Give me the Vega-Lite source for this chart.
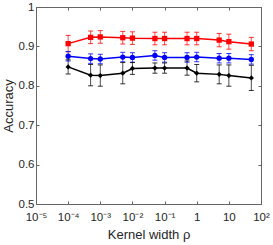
{
  "$schema": "https://vega.github.io/schema/vega-lite/v6.json",
  "width": 225,
  "height": 197,
  "autosize": {"type": "none"},
  "padding": {"left": 36, "top": 7, "right": 12, "bottom": 41},
  "background": "white",
  "config": {
    "view": {"stroke": "#666", "strokeWidth": 1},
    "axis": {
      "grid": false, "domainColor": "#666", "tickColor": "#666",
      "labelColor": "#262626", "titleColor": "#262626",
      "labelFont": "Liberation Sans", "titleFont": "Liberation Sans",
      "labelFontSize": 11.5, "titleFontSize": 13, "titleFontWeight": "normal",
      "tickSize": -3, "labelPadding": 5
    }
  },
  "data": {"values": [
    {"s": "A", "rho": 0.0001, "acc": 0.907, "lo": 0.886, "hi": 0.928},
    {"s": "A", "rho": 0.0005, "acc": 0.923, "lo": 0.907, "hi": 0.939},
    {"s": "A", "rho": 0.001, "acc": 0.924, "lo": 0.908, "hi": 0.940},
    {"s": "A", "rho": 0.005, "acc": 0.922, "lo": 0.906, "hi": 0.938},
    {"s": "A", "rho": 0.01, "acc": 0.921, "lo": 0.905, "hi": 0.937},
    {"s": "A", "rho": 0.05, "acc": 0.920, "lo": 0.904, "hi": 0.936},
    {"s": "A", "rho": 0.1, "acc": 0.920, "lo": 0.904, "hi": 0.936},
    {"s": "A", "rho": 0.5, "acc": 0.920, "lo": 0.904, "hi": 0.936},
    {"s": "A", "rho": 1, "acc": 0.920, "lo": 0.904, "hi": 0.936},
    {"s": "A", "rho": 5, "acc": 0.916, "lo": 0.899, "hi": 0.933},
    {"s": "A", "rho": 10, "acc": 0.912, "lo": 0.893, "hi": 0.931},
    {"s": "A", "rho": 50, "acc": 0.906, "lo": 0.889, "hi": 0.923},
    {"s": "B", "rho": 0.0001, "acc": 0.875, "lo": 0.863, "hi": 0.887},
    {"s": "B", "rho": 0.0005, "acc": 0.869, "lo": 0.857, "hi": 0.881},
    {"s": "B", "rho": 0.001, "acc": 0.868, "lo": 0.856, "hi": 0.880},
    {"s": "B", "rho": 0.005, "acc": 0.873, "lo": 0.861, "hi": 0.885},
    {"s": "B", "rho": 0.01, "acc": 0.872, "lo": 0.860, "hi": 0.884},
    {"s": "B", "rho": 0.05, "acc": 0.877, "lo": 0.865, "hi": 0.889},
    {"s": "B", "rho": 0.1, "acc": 0.872, "lo": 0.860, "hi": 0.884},
    {"s": "B", "rho": 0.5, "acc": 0.872, "lo": 0.860, "hi": 0.884},
    {"s": "B", "rho": 1, "acc": 0.873, "lo": 0.861, "hi": 0.885},
    {"s": "B", "rho": 5, "acc": 0.870, "lo": 0.858, "hi": 0.882},
    {"s": "B", "rho": 10, "acc": 0.870, "lo": 0.858, "hi": 0.882},
    {"s": "B", "rho": 50, "acc": 0.867, "lo": 0.855, "hi": 0.879},
    {"s": "C", "rho": 0.0001, "acc": 0.848, "lo": 0.830, "hi": 0.866},
    {"s": "C", "rho": 0.0005, "acc": 0.827, "lo": 0.800, "hi": 0.854},
    {"s": "C", "rho": 0.001, "acc": 0.826, "lo": 0.799, "hi": 0.853},
    {"s": "C", "rho": 0.005, "acc": 0.832, "lo": 0.805, "hi": 0.859},
    {"s": "C", "rho": 0.01, "acc": 0.844, "lo": 0.829, "hi": 0.859},
    {"s": "C", "rho": 0.05, "acc": 0.845, "lo": 0.832, "hi": 0.858},
    {"s": "C", "rho": 0.1, "acc": 0.845, "lo": 0.832, "hi": 0.858},
    {"s": "C", "rho": 0.5, "acc": 0.845, "lo": 0.827, "hi": 0.863},
    {"s": "C", "rho": 1, "acc": 0.832, "lo": 0.810, "hi": 0.854},
    {"s": "C", "rho": 5, "acc": 0.829, "lo": 0.805, "hi": 0.853},
    {"s": "C", "rho": 10, "acc": 0.826, "lo": 0.799, "hi": 0.853},
    {"s": "C", "rho": 50, "acc": 0.820, "lo": 0.788, "hi": 0.852}
  ]},
  "resolve": {"axis": {"x": "independent", "y": "independent"}},
  "layer": [
    {
      "mark": {"type": "rule", "strokeWidth": 1, "opacity": 0.7},
      "encoding": {
        "x": {"field": "rho", "type": "quantitative",
          "scale": {"type": "log", "domain": [0.00001, 100], "nice": false},
          "axis": {"orient": "top", "labels": false, "title": null, "domain": false,
            "values": [0.00001, 0.0001, 0.001, 0.01, 0.1, 1, 10, 100]}},
        "y": {"field": "lo", "type": "quantitative",
          "scale": {"domain": [0.5, 1], "nice": false, "zero": false},
          "axis": {"orient": "right", "labels": false, "title": null, "domain": false,
            "values": [0.5, 0.6, 0.7, 0.8, 0.9, 1]}},
        "y2": {"field": "hi"},
        "color": {"field": "s", "type": "nominal", "legend": null,
          "scale": {"domain": ["A", "B", "C"], "range": ["#ff0000", "#0000ff", "#000000"]}}
      }
    },
    {
      "mark": {"type": "tick", "orient": "horizontal", "size": 5, "thickness": 1, "opacity": 0.8},
      "encoding": {
        "x": {"field": "rho", "type": "quantitative", "axis": null},
        "y": {"field": "lo", "type": "quantitative", "axis": null},
        "color": {"field": "s", "type": "nominal", "legend": null}
      }
    },
    {
      "mark": {"type": "tick", "orient": "horizontal", "size": 5, "thickness": 1, "opacity": 0.8},
      "encoding": {
        "x": {"field": "rho", "type": "quantitative", "axis": null},
        "y": {"field": "hi", "type": "quantitative", "axis": null},
        "color": {"field": "s", "type": "nominal", "legend": null}
      }
    },
    {
      "mark": {"type": "line", "strokeWidth": 1.5},
      "encoding": {
        "x": {"field": "rho", "type": "quantitative",
          "axis": {"orient": "bottom", "title": "Kernel width  ρ", "titlePadding": 6,
            "labelOverlap": false, "labelFlush": false, "labelPadding": 10,
            "values": [0.00001, 0.0001, 0.001, 0.01, 0.1, 1, 10, 100],
            "labelExpr": "datum.value < 0.00002 ? '10⁻⁵' : datum.value < 0.0002 ? '10⁻⁴' : datum.value < 0.002 ? '10⁻³' : datum.value < 0.02 ? '10⁻²' : datum.value < 0.2 ? '10⁻¹' : datum.value < 2 ? '1' : datum.value < 20 ? '10' : '10²'"}},
        "y": {"field": "acc", "type": "quantitative",
          "axis": {"orient": "left", "title": "Accuracy", "titlePadding": 3,
            "values": [0.5, 0.6, 0.7, 0.8, 0.9, 1], "format": "~g"}},
        "color": {"field": "s", "type": "nominal", "legend": null}
      }
    },
    {
      "mark": {"type": "point", "filled": true, "opacity": 1, "size": 28},
      "encoding": {
        "x": {"field": "rho", "type": "quantitative", "axis": null},
        "y": {"field": "acc", "type": "quantitative", "axis": null},
        "color": {"field": "s", "type": "nominal", "legend": null},
        "shape": {"field": "s", "type": "nominal", "legend": null,
          "scale": {"domain": ["A", "B", "C"], "range": ["square", "circle", "diamond"]}}
      }
    }
  ]
}
